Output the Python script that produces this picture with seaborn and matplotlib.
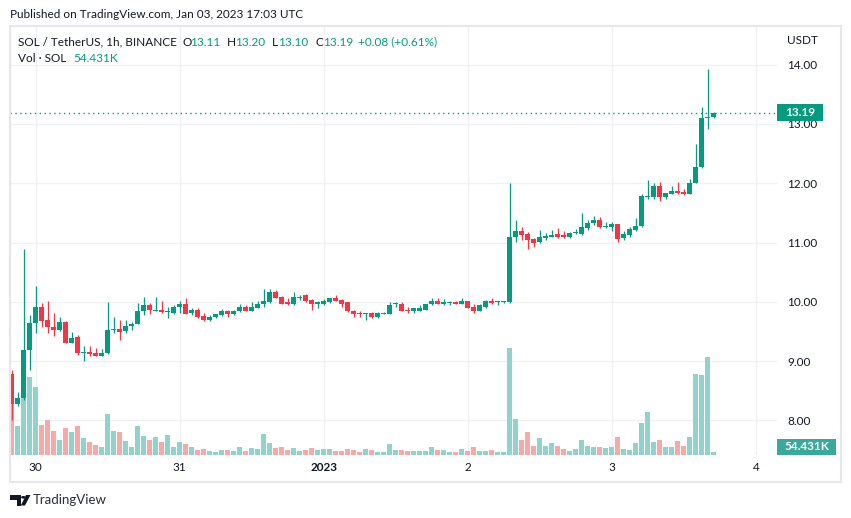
import numpy as np
import pandas as pd
import matplotlib
matplotlib.use("Agg")
import matplotlib.pyplot as plt
import matplotlib.transforms as mtransforms
from matplotlib.patches import Rectangle, Polygon, Circle
import seaborn as sns

# ---------------- data (hourly SOL/USDT, Dec 29 20:00 -> Jan 03 17:00 UTC) ----------------
opens = [8.79, 8.28, 8.38, 9.18, 9.65, 9.92, 9.70, 9.58, 9.52, 9.66,
         9.31, 9.41, 9.13, 9.15, 9.14, 9.09, 9.13, 9.52, 9.55, 9.51,
         9.59, 9.63, 9.85, 9.95, 9.85, 9.87, 9.83, 9.81, 9.91, 9.97,
         9.82, 9.86, 9.76, 9.69, 9.74, 9.77, 9.85, 9.80, 9.84, 9.92,
         9.85, 9.90, 9.96, 9.99, 10.16, 10.08, 9.99, 9.96, 10.07, 10.11,
         10.03, 9.96, 9.97, 9.99, 10.06, 10.03, 9.99, 9.85, 9.82, 9.79,
         9.82, 9.74, 9.80, 9.80, 9.96, 9.97, 9.87, 9.84, 9.85, 9.87,
         9.96, 10.02, 9.97, 9.98, 9.99, 9.97, 10.01, 9.92, 9.85, 9.92,
         10.02, 9.99, 9.99, 9.99, 11.09, 11.19, 11.14, 11.06, 11.01, 11.07,
         11.10, 11.14, 11.12, 11.09, 11.16, 11.14, 11.24, 11.33, 11.38, 11.26,
         11.26, 11.31, 11.07, 11.12, 11.21, 11.27, 11.77, 11.76, 11.95, 11.76,
         11.82, 11.87, 11.85, 11.82, 12.01, 12.27, 13.10, 13.11]
highs = [8.85, 8.48, 10.89, 9.78, 10.27, 9.98, 10.02, 9.81, 9.75, 9.67,
         9.49, 9.44, 9.26, 9.25, 9.22, 9.21, 10.00, 9.75, 9.70, 9.70,
         9.66, 9.98, 10.08, 9.98, 10.08, 10.01, 9.92, 9.95, 10.01, 10.07,
         9.90, 9.90, 9.81, 9.77, 9.80, 9.88, 9.86, 9.86, 9.96, 9.94,
         9.99, 10.01, 10.22, 10.22, 10.20, 10.09, 10.06, 10.17, 10.12, 10.13,
         10.04, 10.01, 10.04, 10.07, 10.11, 10.04, 10.00, 9.87, 9.85, 9.82,
         9.83, 9.83, 9.83, 9.99, 9.99, 9.99, 9.92, 9.90, 9.94, 9.97,
         10.07, 10.07, 10.05, 10.02, 10.02, 10.07, 10.02, 9.96, 9.96, 10.03,
         10.06, 10.02, 10.02, 12.01, 11.38, 11.26, 11.18, 11.07, 11.21, 11.16,
         11.21, 11.24, 11.19, 11.17, 11.23, 11.50, 11.38, 11.45, 11.43, 11.34,
         11.34, 11.32, 11.19, 11.26, 11.41, 11.82, 12.05, 12.00, 12.02, 11.84,
         11.95, 12.02, 11.90, 12.07, 12.66, 13.28, 13.92, 13.20]
lows = [8.01, 8.25, 8.35, 8.85, 9.48, 9.58, 9.48, 9.43, 9.51, 9.30,
        9.30, 9.11, 9.01, 9.08, 9.08, 9.08, 9.12, 9.48, 9.36, 9.47,
        9.53, 9.62, 9.78, 9.79, 9.84, 9.81, 9.72, 9.80, 9.81, 9.80,
        9.77, 9.73, 9.68, 9.68, 9.73, 9.76, 9.75, 9.78, 9.83, 9.84,
        9.84, 9.89, 9.92, 9.98, 10.06, 9.96, 9.95, 9.95, 10.03, 10.00,
        9.87, 9.90, 9.95, 9.98, 10.01, 9.92, 9.83, 9.74, 9.75, 9.70,
        9.72, 9.73, 9.79, 9.79, 9.92, 9.84, 9.82, 9.82, 9.84, 9.86,
        9.95, 9.96, 9.95, 9.95, 9.97, 9.96, 9.90, 9.82, 9.84, 9.90,
        9.97, 9.95, 9.98, 9.98, 11.01, 11.04, 10.89, 10.92, 11.00, 11.04,
        11.09, 11.08, 11.08, 11.08, 11.15, 11.13, 11.21, 11.29, 11.25, 11.25,
        11.19, 11.01, 11.05, 11.10, 11.20, 11.26, 11.74, 11.74, 11.70, 11.74,
        11.81, 11.82, 11.80, 11.81, 12.00, 12.26, 12.92, 13.10]
closes = [8.28, 8.38, 9.18, 9.65, 9.92, 9.68, 9.57, 9.52, 9.66, 9.31,
          9.39, 9.13, 9.15, 9.12, 9.09, 9.14, 9.53, 9.54, 9.50, 9.60,
          9.63, 9.85, 9.95, 9.86, 9.87, 9.83, 9.84, 9.92, 9.97, 9.80,
          9.86, 9.74, 9.69, 9.75, 9.79, 9.85, 9.80, 9.85, 9.92, 9.85,
          9.92, 9.97, 10.02, 10.17, 10.07, 9.97, 9.96, 10.08, 10.08, 10.01,
          9.96, 9.99, 10.01, 10.06, 10.02, 9.97, 9.84, 9.80, 9.79, 9.82,
          9.74, 9.82, 9.82, 9.95, 9.97, 9.85, 9.85, 9.89, 9.90, 9.96,
          10.02, 9.97, 9.99, 9.99, 9.97, 10.01, 9.90, 9.85, 9.94, 10.01,
          9.98, 10.01, 10.01, 11.09, 11.19, 11.12, 11.04, 10.99, 11.09, 11.11,
          11.12, 11.09, 11.09, 11.16, 11.17, 11.26, 11.33, 11.38, 11.26, 11.28,
          11.31, 11.06, 11.14, 11.23, 11.28, 11.78, 11.78, 11.95, 11.76, 11.83,
          11.87, 11.83, 11.81, 12.00, 12.27, 13.10, 13.12, 13.19]
volumes_k = [1020, 580, 1600, 1560, 1360, 600, 700, 480, 300, 540,
             460, 580, 340, 260, 200, 160, 820, 480, 460, 280,
             160, 580, 380, 300, 360, 260, 400, 160, 260, 220,
             160, 100, 120, 80, 60, 100, 100, 80, 160, 80,
             140, 120, 420, 240, 140, 160, 100, 140, 80, 100,
             140, 100, 120, 120, 80, 80, 120, 100, 60, 120,
             100, 60, 60, 220, 100, 100, 80, 80, 80, 80,
             160, 100, 100, 60, 60, 120, 80, 160, 80, 80,
             100, 60, 60, 2140, 720, 300, 460, 180, 340, 180,
             240, 180, 120, 80, 120, 300, 180, 160, 160, 140,
             160, 360, 120, 100, 240, 640, 860, 260, 300, 160,
             160, 280, 180, 360, 1620, 1600, 1960, 54.431]

day_tick_hours = [4, 28, 52, 76, 100, 124]
day_tick_labels = ["30", "31", "2023", "2", "3", "4"]
price_ticks = [8, 9, 10, 11, 12, 13, 14]
last_price = 13.19

assert len(opens) == len(highs) == len(lows) == len(closes) == len(volumes_k) == 118

# ---------------- styling ----------------
UP, DOWN = "#089981", "#f23645"
UP_V, DOWN_V = "#92d2cc", "#f7a9a7"
GRID = "#f0f1f4"
TXT = "#131722"

sns.set_theme(style="white")
plt.rcParams["font.family"] = ["Lato", "DejaVu Sans"]

W, H = 851, 518
fig = plt.figure(figsize=(W / 100, H / 100), dpi=100)
fig.patch.set_facecolor("white")

def fx(x):
    return x / W

def fy(y):
    return 1 - y / H

# plot area: x 10..777 px, y 26..455 px
ax_v = fig.add_axes([fx(10), fy(455), (777 - 10) / W, (455 - 26) / H])
ax_p = ax_v.twinx()

hours = np.arange(len(opens))
o = np.array(opens); c = np.array(closes); hi = np.array(highs); lo = np.array(lows)
up = c >= o

# price / volume ranges (px mapping: 59.33 px per 1.00, 20K per px)
pmin, pmax = 7.4185, 14.649
vmax = 429 * 20
xmin, xmax = -0.3, 127.53

# ---- volume bars (seaborn) ----
df = pd.DataFrame({"hour": hours, "vol": volumes_k,
                   "dir": np.where(up, "up", "down")})
sns.barplot(data=df, x="hour", y="vol", hue="dir", native_scale=True,
            palette={"up": UP_V, "down": DOWN_V}, dodge=False,
            errorbar=None, legend=False, saturation=1, width=0.8,
            linewidth=0, ax=ax_v)
ax_v.set_xlim(xmin, xmax)
ax_v.set_ylim(0, vmax)
# horizontal grid at price levels, drawn behind the volume bars
grid_pos = [(p - pmin) / (pmax - pmin) * vmax for p in price_ticks]
ax_v.set_yticks(grid_pos)
ax_v.set_yticklabels([])
ax_v.set_xticks(day_tick_hours)
ax_v.set_xticklabels(day_tick_labels)
for lab in ax_v.get_xticklabels():
    if lab.get_text() == "2023":
        lab.set_fontweight("bold")
ax_v.tick_params(axis="x", length=0, pad=5, labelsize=8.5, labelcolor=TXT)
ax_v.tick_params(axis="y", length=0, left=False, labelleft=False)
ax_v.grid(True, color=GRID, linewidth=1.0)
ax_v.set_axisbelow(True)
ax_v.set_xlabel(""); ax_v.set_ylabel("")
for s in ax_v.spines.values():
    s.set_visible(False)

# ---- candles ----
cols = np.where(up, UP, DOWN)
body_lo = np.minimum(o, c)
body_h = np.maximum(np.abs(c - o), 0.017)
ax_p.vlines(hours, lo, hi, colors=cols, linewidth=0.9, zorder=2)
ax_p.bar(hours, body_h, bottom=body_lo, width=0.8, color=cols, linewidth=0, zorder=3)
ax_p.axhline(last_price, color=UP, linewidth=1.0, linestyle=(0, (1, 2.5)), zorder=4)
ax_p.set_ylim(pmin, pmax)
ax_p.set_xlim(xmin, xmax)
ax_p.set_yticks(price_ticks)
ax_p.set_yticklabels([f"{v:.2f}" for v in price_ticks])
ax_p.tick_params(axis="y", length=0, pad=7.5, labelsize=8.5, labelcolor=TXT)
ax_p.grid(False)
ax_p.set_ylabel("")
for s in ax_p.spines.values():
    s.set_visible(False)

# ---- outer frame ----
fig.add_artist(Rectangle((fx(10), fy(482)), (841 - 10) / W, (482 - 26) / H,
                         transform=fig.transFigure, fill=False,
                         edgecolor="#e6e7ea", linewidth=1.5))

# ---- last price label ----
blend = mtransforms.blended_transform_factory(fig.transFigure, ax_p.transData)
hh = 17 / 59.33
fig.add_artist(Rectangle((fx(777), last_price - hh / 2), 46 / W, hh,
                         transform=blend, facecolor=UP, edgecolor="none", zorder=5))
fig.text(fx(800), last_price, f"{last_price:.2f}", transform=blend, ha="center",
         va="center", color="white", fontsize=8.5, fontweight="bold", zorder=6)

# ---- volume label ----
fig.add_artist(Rectangle((fx(777), fy(455)), 59 / W, 16 / H, transform=fig.transFigure,
                         facecolor="#3aa99b", edgecolor="none", zorder=5))
fig.text(fx(806.5), fy(447), f"{volumes_k[-1]:.3f}K", ha="center", va="center",
         color="white", fontsize=8.5, fontweight="bold", zorder=6)

fig.text(fx(787), fy(41), "USDT", ha="left", va="center", color=TXT, fontsize=8.5)

# ---- header texts ----
fig.text(fx(10), fy(15), "Published on TradingView.com, Jan 03, 2023 17:03 UTC",
         ha="left", va="center", color=TXT, fontsize=8.5)
row_y = fy(42)
fig.text(fx(18), row_y, "SOL / TetherUS, 1h, BINANCE", ha="left", va="center",
         color=TXT, fontsize=8.5)
for xp, t, col in [(182.7, "O", TXT), (190.5, "13.11", UP),
                   (226.7, "H", TXT), (235.5, "13.20", UP),
                   (271.7, "L", TXT), (278.3, "13.10", UP),
                   (315, "C", TXT), (323.3, "13.19", UP),
                   (358.3, "+0.08 (+0.61%)", UP)]:
    fig.text(fx(xp), row_y, t, ha="left", va="center", color=col, fontsize=8.5)
fig.text(fx(18), fy(58.5), "Vol · SOL", ha="left", va="center", color=TXT, fontsize=8.5)
fig.text(fx(73), fy(58.5), f"{volumes_k[-1]:.3f}K", ha="left", va="center",
         color=UP, fontsize=8.5)

# ---- TradingView logo + wordmark ----
def P(pts):
    return [(fx(x), fy(y)) for x, y in pts]

fig.add_artist(Polygon(P([(10, 495), (20.5, 495), (20.5, 505.5), (16.5, 505.5),
                          (16.5, 499.5), (10, 499.5)]), closed=True,
                       transform=fig.transFigure, facecolor="#131722", edgecolor="none"))
fig.add_artist(Circle((fx(23.3), fy(497.3)), 2.2 / W, transform=fig.transFigure,
                      facecolor="#131722", edgecolor="none"))
fig.add_artist(Polygon(P([(26, 495), (30.5, 495), (25, 505.5), (20.8, 505.5)]),
                       closed=True, transform=fig.transFigure,
                       facecolor="#131722", edgecolor="none"))
fig.text(fx(33), fy(499.5), "TradingView", ha="left", va="center",
         color="#2a2e39", fontsize=9.5)

fig.savefig("out.png", dpi=100, facecolor="white")
